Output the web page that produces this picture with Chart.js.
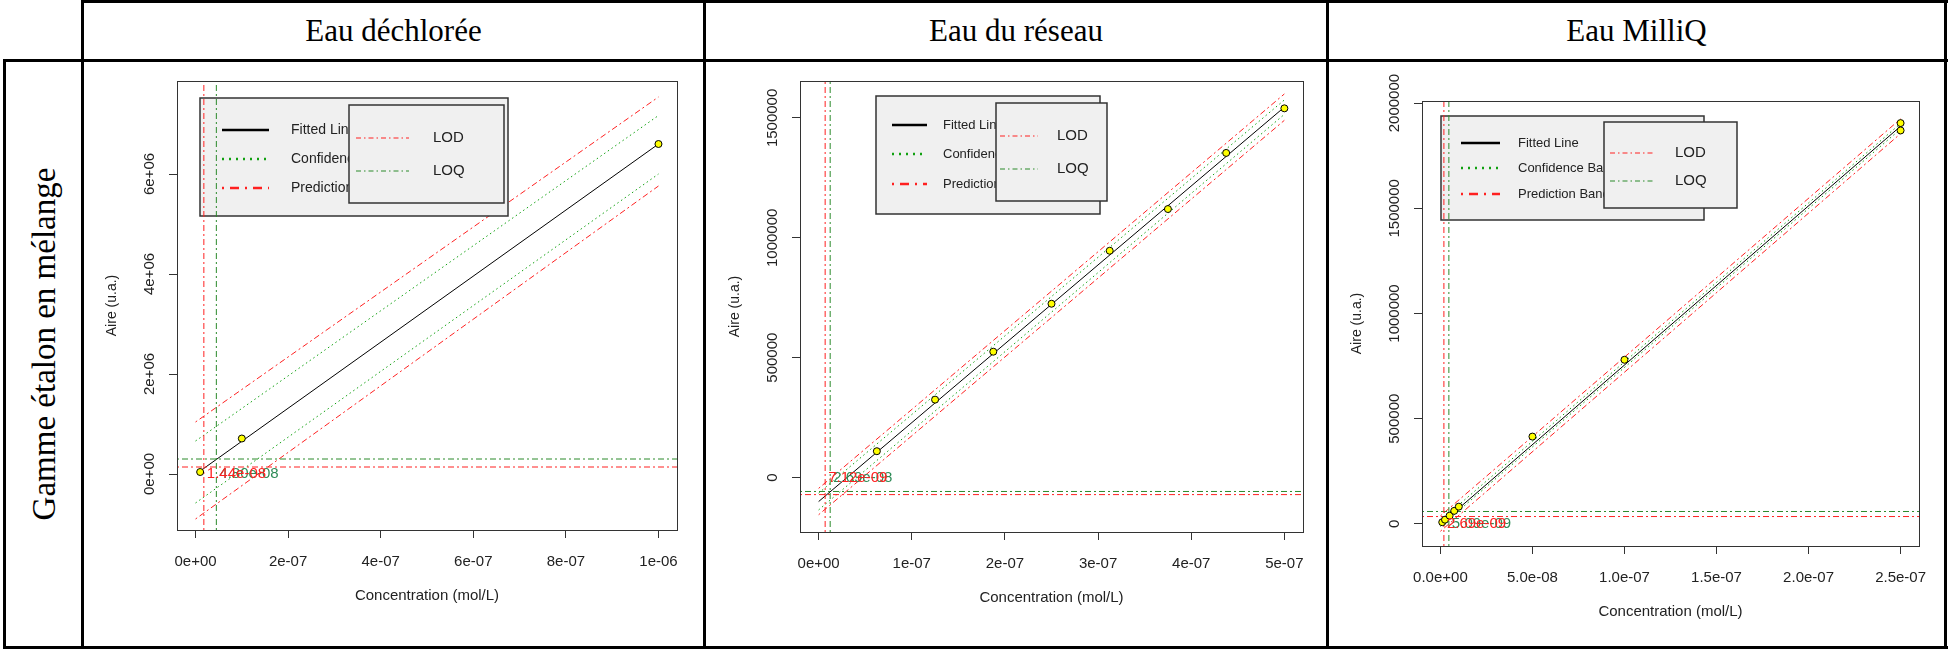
<!DOCTYPE html>
<html lang="fr">
<head>
<meta charset="utf-8">
<title>Gamme étalon en mélange</title>
<script src="https://cdn.jsdelivr.net/npm/chart.js@4.4.0/dist/chart.umd.min.js"></script>
<style>
  body { margin: 0; width: 1948px; height: 650px; background: #fff; position: relative; overflow: hidden; font-family: "Liberation Serif", "Times New Roman", serif; }
  .rule { position: absolute; background: #000; }
  .head { position: absolute; top: 2px; height: 58px; line-height: 58px; text-align: center; font-size: 31px; color: #000; }
  .side { position: absolute; left: 6px; top: 62px; width: 75px; height: 584px; }
  .side span { position: absolute; left: 50%; top: calc(50% - 10px); transform: translate(-50%, -50%) rotate(-90deg); white-space: nowrap; font-size: 33px; }
  canvas { position: absolute; }
</style>
</head>
<body>
<div class="rule" style="left:81px;top:0;width:1867px;height:3px"></div>
<div class="rule" style="left:3px;top:59px;width:1945px;height:3px"></div>
<div class="rule" style="left:3px;top:646px;width:1945px;height:3px"></div>
<div class="rule" style="left:3px;top:59px;width:3px;height:590px"></div>
<div class="rule" style="left:81px;top:0;width:3px;height:649px"></div>
<div class="rule" style="left:703px;top:0;width:3px;height:649px"></div>
<div class="rule" style="left:1326px;top:0;width:3px;height:649px"></div>
<div class="rule" style="left:1944px;top:0;width:3px;height:649px"></div>

<div class="head" style="left:84px;width:619px">Eau déchlorée</div>
<div class="head" style="left:706px;width:620px">Eau du réseau</div>
<div class="head" style="left:1329px;width:615px">Eau MilliQ</div>
<div class="side"><span>Gamme étalon en mélange</span></div>

<canvas id="dech"></canvas>
<canvas id="reseau"></canvas>
<canvas id="milliq"></canvas>

<script>
// ---------- Eau déchlorée ----------
const dechX = [1e-8, 1e-7, 1e-6];
const dechY = [4e4, 7.1e5, 6.6e6];
const dechFitX = [1e-8, 1e-6];
const dechFitY = [6e4, 6.6e6];
const dechBandX = [0, 1e-6];
const dechConfUp = [0.66e6, 7.17e6];
const dechConfLo = [-0.58e6, 6.0e6];
const dechPredUp = [1.04e6, 7.54e6];
const dechPredLo = [-0.9e6, 5.76e6];
const dechLimits = [1.8e-8, 4.5e-8]; // LOD, LOQ
const dechLimitSignal = [1.4e5, 3.0e5];
const dechLimitLabels = ["1.44e-08", "4.80e-08"];
const dechXRange = [-4e-8, 1.04e-6];
const dechYRange = [-1.12e6, 7.86e6];
const dechXTicks = [0, 2e-7, 4e-7, 6e-7, 8e-7, 1e-6];
const dechXTickLabels = ["0e+00", "2e-07", "4e-07", "6e-07", "8e-07", "1e-06"];
const dechYTicks = [0, 2e6, 4e6, 6e6];
const dechYTickLabels = ["0e+00", "2e+06", "4e+06", "6e+06"];

// ---------- Eau du réseau ----------
const reseauX = [6.25e-8, 1.25e-7, 1.875e-7, 2.5e-7, 3.125e-7, 3.75e-7, 4.375e-7, 5e-7];
const reseauY = [1.1e5, 3.25e5, 5.25e5, 7.25e5, 9.46e5, 1.12e6, 1.354e6, 1.54e6];
const reseauFitX = [0, 5e-7];
const reseauFitY = [-1.0e5, 1.545e6];
const reseauBandX = [0, 5e-7];
const reseauConfUp = [-0.65e5, 1.575e6];
const reseauConfLo = [-1.35e5, 1.515e6];
const reseauPredUp = [-0.45e5, 1.6e6];
const reseauPredLo = [-1.55e5, 1.49e6];
const reseauLimits = [7e-9, 1.24e-8];
const reseauLimitSignal = [-7.1e4, -5.8e4];
const reseauLimitLabels = ["7.12e-09", "2.69e-08"];
const reseauXRange = [-2e-8, 5.2e-7];
const reseauYRange = [-2.27e5, 1.654e6];
const reseauXTicks = [0, 1e-7, 2e-7, 3e-7, 4e-7, 5e-7];
const reseauXTickLabels = ["0e+00", "1e-07", "2e-07", "3e-07", "4e-07", "5e-07"];
const reseauYTicks = [0, 5e5, 1e6, 1.5e6];
const reseauYTickLabels = ["0", "500000", "1000000", "1500000"];

// ---------- Eau MilliQ ----------
const milliqX = [1e-9, 2.5e-9, 5e-9, 7.5e-9, 1e-8, 5e-8, 1e-7, 2.5e-7, 2.5e-7];
const milliqY = [8e3, 2e4, 3.9e4, 6.2e4, 8.2e4, 4.15e5, 7.8e5, 1.905e6, 1.87e6];
const milliqFitX = [1e-9, 2.5e-7];
const milliqFitY = [6e3, 1.89e6];
const milliqBandX = [0, 2.5e-7];
const milliqConfUp = [1.5e4, 1.903e6];
const milliqConfLo = [-1.2e4, 1.877e6];
const milliqPredUp = [3.8e4, 1.925e6];
const milliqPredLo = [-3.5e4, 1.855e6];
const milliqLimits = [1.9e-9, 4.6e-9];
const milliqLimitSignal = [3.5e4, 5.9e4];
const milliqLimitLabels = ["2.69e-09", "5.09e-09"];
const milliqXRange = [-1e-8, 2.6e-7];
const milliqYRange = [-1.05e5, 2.01e6];
const milliqXTicks = [0, 5e-8, 1e-7, 1.5e-7, 2e-7, 2.5e-7];
const milliqXTickLabels = ["0.0e+00", "5.0e-08", "1.0e-07", "1.5e-07", "2.0e-07", "2.5e-07"];
const milliqYTicks = [0, 5e5, 1e6, 1.5e6, 2e6];
const milliqYTickLabels = ["0", "500000", "1000000", "1500000", "2000000"];

const legendNames = ["Fitted Line", "Confidence Bands", "Prediction Bands"];
const limitNames = ["LOD", "LOQ"];

// colours / styles
const RED = "#ff2020";
const CONF_GREEN = "#10a010";
const LOQ_GREEN = "#2b8a2b";
const TEXT_GREEN = "#2e8b57";
const DOTDASH = [2, 3, 6, 3];
const DOTTED = [1.5, 3];
const TICK = 9;
const SANS = '"Liberation Sans", Arial, sans-serif';

// page geometry of each panel (canvas, plot box, legends)
const layouts = {
  dech: {
    canvas: [84, 62, 619, 584], box: [177, 81, 677, 530],
    legend: { rect: [200, 98, 508, 216], rows: [130, 159, 188], line: [222, 269], text: 291, size: 14 },
    lodLegend: { rect: [349, 105, 504, 203], rows: [138, 171], line: [356, 409], text: 433, size: 15 },
  },
  reseau: {
    canvas: [706, 62, 620, 584], box: [800, 81, 1303, 532],
    legend: { rect: [876, 96, 1100, 214], rows: [125, 154, 184], line: [892, 927], text: 943, size: 13 },
    lodLegend: { rect: [996, 103, 1107, 201], rows: [136, 169], line: [1000, 1038], text: 1057, size: 15 },
  },
  milliq: {
    canvas: [1329, 62, 615, 584], box: [1422, 101, 1919, 546],
    legend: { rect: [1441, 116, 1704, 220], rows: [143, 168, 194], line: [1461, 1500], text: 1518, size: 13 },
    lodLegend: { rect: [1604, 122, 1737, 208], rows: [153, 181], line: [1610, 1655], text: 1675, size: 15 },
  },
};

const panels = {
  dech: {
    x: dechX, y: dechY, fitX: dechFitX, fitY: dechFitY, bandX: dechBandX,
    confUp: dechConfUp, confLo: dechConfLo, predUp: dechPredUp, predLo: dechPredLo,
    limits: dechLimits, limitSignal: dechLimitSignal, limitLabels: dechLimitLabels,
    xRange: dechXRange, yRange: dechYRange,
    xTicks: dechXTicks, xTickLabels: dechXTickLabels, yTicks: dechYTicks, yTickLabels: dechYTickLabels,
  },
  reseau: {
    x: reseauX, y: reseauY, fitX: reseauFitX, fitY: reseauFitY, bandX: reseauBandX,
    confUp: reseauConfUp, confLo: reseauConfLo, predUp: reseauPredUp, predLo: reseauPredLo,
    limits: reseauLimits, limitSignal: reseauLimitSignal, limitLabels: reseauLimitLabels,
    xRange: reseauXRange, yRange: reseauYRange,
    xTicks: reseauXTicks, xTickLabels: reseauXTickLabels, yTicks: reseauYTicks, yTickLabels: reseauYTickLabels,
  },
  milliq: {
    x: milliqX, y: milliqY, fitX: milliqFitX, fitY: milliqFitY, bandX: milliqBandX,
    confUp: milliqConfUp, confLo: milliqConfLo, predUp: milliqPredUp, predLo: milliqPredLo,
    limits: milliqLimits, limitSignal: milliqLimitSignal, limitLabels: milliqLimitLabels,
    xRange: milliqXRange, yRange: milliqYRange,
    xTicks: milliqXTicks, xTickLabels: milliqXTickLabels, yTicks: milliqYTicks, yTickLabels: milliqYTickLabels,
  },
};

// Helper: a line dataset from two arrays
function lineSet(xs, ys, color, dash, width) {
  return {
    data: xs.map((x, i) => ({ x, y: ys[i] })),
    showLine: true,
    borderColor: color,
    borderWidth: width,
    borderDash: dash,
    pointRadius: 0,
    fill: false,
  };
}

// Draw both legend boxes (R style, opaque background)
function drawLegends(ctx, lay) {
  const [ox, oy] = lay.canvas;
  const box = (r) => {
    ctx.fillStyle = "#f0f0f0";
    ctx.fillRect(r[0] - ox, r[1] - oy, r[2] - r[0], r[3] - r[1]);
    ctx.strokeStyle = "#333";
    ctx.lineWidth = 1.5;
    ctx.strokeRect(r[0] - ox, r[1] - oy, r[2] - r[0], r[3] - r[1]);
  };
  const sample = (x1, x2, y, color, dash, width) => {
    ctx.beginPath();
    ctx.setLineDash(dash);
    ctx.strokeStyle = color;
    ctx.lineWidth = width;
    ctx.moveTo(x1 - ox, y - oy);
    ctx.lineTo(x2 - ox, y - oy);
    ctx.stroke();
    ctx.setLineDash([]);
  };
  ctx.save();
  const L = lay.legend;
  box(L.rect);
  const styles = [["#000", [], 2.5], [CONF_GREEN, [2, 5], 2.5], [RED, [2, 6, 9, 6], 2.5]];
  ctx.font = L.size + "px " + SANS;
  ctx.textBaseline = "middle";
  ctx.textAlign = "left";
  legendNames.forEach((name, i) => {
    sample(L.line[0], L.line[1], L.rows[i], ...styles[i]);
    ctx.fillStyle = "#222";
    ctx.fillText(name, L.text - ox, L.rows[i] - oy);
  });
  const D = lay.lodLegend;
  box(D.rect);
  ctx.font = D.size + "px " + SANS;
  limitNames.forEach((name, i) => {
    sample(D.line[0], D.line[1], D.rows[i], i === 0 ? RED : LOQ_GREEN, [5, 3, 1.5, 3], 1);
    ctx.fillStyle = "#222";
    ctx.fillText(name, D.text - ox, D.rows[i] - oy);
  });
  ctx.restore();
}

// Plugin: box, tick labels, axis titles, legends and LOD/LOQ values
function rPlot(p, lay) {
  return {
    id: "rplot",
    beforeDatasetDraw(chart, args) {
      if (args.index === 4) drawLegends(chart.ctx, lay);
    },
    afterDraw(chart) {
      const { ctx, chartArea: a } = chart;
      const xs = chart.scales.x;
      const ys = chart.scales.y;
      ctx.save();
      ctx.strokeStyle = "#333";
      ctx.lineWidth = 1;
      ctx.strokeRect(Math.round(a.left) + 0.5, Math.round(a.top) + 0.5,
        Math.round(a.right - a.left), Math.round(a.bottom - a.top));

      ctx.fillStyle = "#222";
      ctx.font = "15px " + SANS;
      ctx.textAlign = "center";
      ctx.textBaseline = "middle";
      p.xTicks.forEach((v, i) => {
        ctx.fillText(p.xTickLabels[i], xs.getPixelForValue(v), a.bottom + 32);
      });
      ctx.fillText("Concentration (mol/L)", (a.left + a.right) / 2, a.bottom + 66);

      p.yTicks.forEach((v, i) => {
        ctx.save();
        ctx.translate(a.left - 27, ys.getPixelForValue(v));
        ctx.rotate(-Math.PI / 2);
        ctx.fillText(p.yTickLabels[i], 0, 0);
        ctx.restore();
      });
      ctx.save();
      ctx.translate(a.left - 65, (a.top + a.bottom) / 2);
      ctx.rotate(-Math.PI / 2);
      ctx.font = "14px " + SANS;
      ctx.fillText("Aire (u.a.)", 0, 0);
      ctx.restore();

      // LOD / LOQ values written at y = 0
      ctx.font = "15px " + SANS;
      ctx.textAlign = "left";
      const y0 = ys.getPixelForValue(0);
      ctx.fillStyle = TEXT_GREEN;
      ctx.fillText(p.limitLabels[1], xs.getPixelForValue(p.limits[1]) + 3, y0);
      ctx.fillStyle = RED;
      ctx.fillText(p.limitLabels[0], xs.getPixelForValue(p.limits[0]) + 3, y0);
      ctx.restore();
    },
  };
}

function buildChart(key) {
  const p = panels[key];
  const lay = layouts[key];
  const [cl, ct, cw, ch] = lay.canvas;
  const [bl, bt, br, bb] = lay.box;
  const canvas = document.getElementById(key);
  canvas.width = cw;
  canvas.height = ch;
  canvas.style.left = cl + "px";
  canvas.style.top = ct + "px";

  const [yMin, yMax] = p.yRange;
  const [xMin, xMax] = p.xRange;
  const datasets = [
    {
      data: p.x.map((x, i) => ({ x, y: p.y[i] })),
      showLine: false,
      pointRadius: 3.5,
      pointBackgroundColor: "#ffff00",
      pointBorderColor: "#000",
      pointBorderWidth: 1,
    },
    lineSet([p.limits[0], p.limits[0]], [yMin, yMax], RED, DOTDASH, 1),
    lineSet([p.limits[1], p.limits[1]], [yMin, yMax], LOQ_GREEN, DOTDASH, 1),
    lineSet([xMin, xMax], [p.limitSignal[0], p.limitSignal[0]], RED, DOTDASH, 1),
    lineSet([xMin, xMax], [p.limitSignal[1], p.limitSignal[1]], LOQ_GREEN, DOTDASH, 1),
    lineSet(p.fitX, p.fitY, "#000", [], 1),
    lineSet(p.bandX, p.confUp, CONF_GREEN, DOTTED, 1),
    lineSet(p.bandX, p.confLo, CONF_GREEN, DOTTED, 1),
    lineSet(p.bandX, p.predUp, RED, DOTDASH, 1),
    lineSet(p.bandX, p.predLo, RED, DOTDASH, 1),
  ];

  const axisCommon = {
    type: "linear",
    ticks: { display: false },
    grid: { drawOnChartArea: false, drawTicks: true, tickLength: TICK - 1, color: "#333", lineWidth: 1 },
    border: { display: true, color: "#333", width: 1 },
  };

  new Chart(canvas, {
    type: "scatter",
    data: { datasets },
    options: {
      responsive: false,
      animation: false,
      layout: {
        padding: { left: bl - cl - TICK, top: bt - ct, right: cl + cw - br, bottom: ct + ch - bb - TICK },
      },
      plugins: { legend: { display: false }, tooltip: { enabled: false } },
      scales: {
        x: {
          ...axisCommon,
          min: xMin,
          max: xMax,
          afterBuildTicks: (s) => { s.ticks = p.xTicks.map((v) => ({ value: v })); },
          afterFit: (s) => { s.height = TICK; },
        },
        y: {
          ...axisCommon,
          min: yMin,
          max: yMax,
          afterBuildTicks: (s) => { s.ticks = p.yTicks.map((v) => ({ value: v })); },
          afterFit: (s) => { s.width = TICK; },
        },
      },
    },
    plugins: [rPlot(p, lay)],
  });
}

["dech", "reseau", "milliq"].forEach(buildChart);
</script>
</body>
</html>
